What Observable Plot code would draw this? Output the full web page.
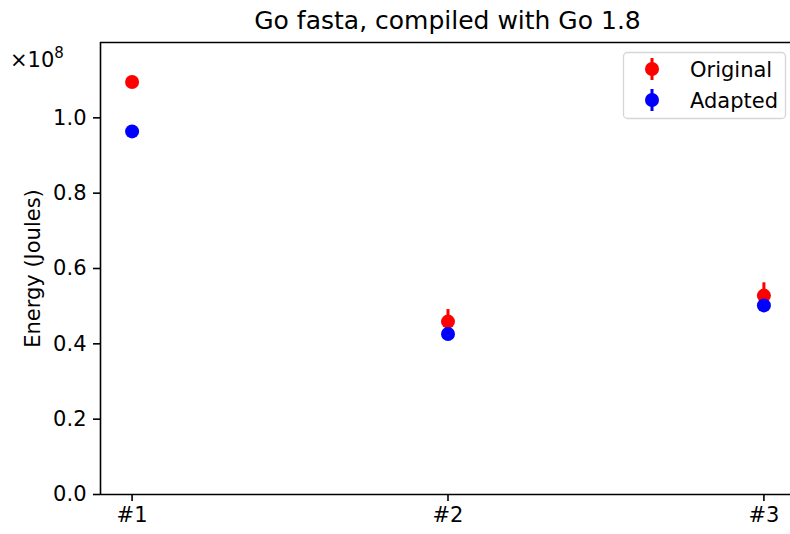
<!DOCTYPE html>
<html>
<head>
<meta charset="utf-8">
<script src="https://cdn.jsdelivr.net/npm/d3@7"></script>
<script src="https://cdn.jsdelivr.net/npm/@observablehq/plot@0.6"></script>
<style>
  html, body { margin: 0; padding: 0; background: #fff; overflow: hidden; }
  #title { width: 790px; height: 40px; box-sizing: border-box; padding-left: 105px; padding-top: 1px;
           text-align: center; font-family: "DejaVu Sans", sans-serif; font-size: 25px; line-height: 40px; color: #000; }
</style>
</head>
<body>
<div id="title">Go fasta, compiled with Go 1.8</div>
<div id="chart"></div>
<script>
// ---- data ----
const categories = ["#1", "#2", "#3"];
const original    = [1.095e8, 0.459e8, 0.528e8];
const originalErr = [0.010e8, 0.032e8, 0.034e8];
const adapted     = [0.964e8, 0.426e8, 0.502e8];
const adaptedErr  = [0.006e8, 0.006e8, 0.006e8];
const yTicks = [0, 0.2e8, 0.4e8, 0.6e8, 0.8e8, 1.0e8];
const seriesNames = ["Original", "Adapted"];
const seriesColors = ["#ff0000", "#0000ff"];

const origRows = categories.map((c, i) => ({i, v: original[i], e: originalErr[i]}));
const adRows = categories.map((c, i) => ({i, v: adapted[i], e: adaptedErr[i]}));

const font = "DejaVu Sans, sans-serif";
const R = 7;

const plot = Plot.plot({
  width: 790,
  height: 494,
  marginTop: 2,
  marginBottom: 40,
  marginLeft: 100,
  marginRight: 0,
  style: {fontFamily: font, fontSize: "21px", background: "#fff", color: "#000"},
  x: {type: "linear", domain: [-0.1, 2.1], range: [100, 795]},
  y: {type: "linear", domain: [0, 1.2e8]},
  marks: [
    Plot.axisX({ticks: [0, 1, 2], tickFormat: i => categories[i], tickSize: 7, tickPadding: 6, label: null, strokeWidth: 1.6}),
    Plot.axisY({ticks: yTicks, tickFormat: d => (d / 1e8).toFixed(1), tickSize: 7, tickPadding: 7, label: null, strokeWidth: 1.6}),
    Plot.ruleY([0], {stroke: "#000", strokeWidth: 1.6}),
    Plot.ruleY([1.2e8], {stroke: "#000", strokeWidth: 1.6}),
    Plot.ruleX([-0.1], {stroke: "#000", strokeWidth: 1.6}),
    Plot.text(["Energy (Joules)"], {frameAnchor: "left", text: d => d, rotate: -90, dx: -67, textAnchor: "middle", lineAnchor: "middle", fontSize: 21}),
    Plot.ruleX(origRows, {x: "i", y1: d => d.v - d.e, y2: d => d.v + d.e, stroke: seriesColors[0], strokeWidth: 3}),
    Plot.dot(origRows, {x: "i", y: "v", r: R, fill: seriesColors[0], stroke: "none"}),
    Plot.ruleX(adRows, {x: "i", y1: d => d.v - d.e, y2: d => d.v + d.e, stroke: seriesColors[1], strokeWidth: 3}),
    Plot.dot(adRows, {x: "i", y: "v", r: R, fill: seriesColors[1], stroke: "none"})
  ]
});
document.getElementById("chart").appendChild(plot);

const svg = d3.select(plot);
// offset text ×10^8
const off = svg.append("text").attr("x", 10).attr("y", 27).attr("text-anchor", "start")
  .attr("font-family", font).attr("font-size", 21).attr("fill", "#000");
off.append("tspan").text("×10");
off.append("tspan").attr("dy", -9).attr("font-size", 15).text("8");

// legend
const lg = svg.append("g").attr("text-anchor", "start");
lg.append("rect").attr("x", 623.5).attr("y", 12.5).attr("width", 162).attr("height", 66).attr("rx", 4)
  .attr("fill", "#fff").attr("fill-opacity", 0.8).attr("stroke", "#d6d6d6").attr("stroke-width", 1.3);
seriesNames.forEach((name, k) => {
  const cy = 29 + k * 31;
  lg.append("line").attr("x1", 652).attr("x2", 652).attr("y1", cy - 11).attr("y2", cy + 11)
    .attr("stroke", seriesColors[k]).attr("stroke-width", 3);
  lg.append("circle").attr("cx", 652).attr("cy", cy).attr("r", R).attr("fill", seriesColors[k]);
  lg.append("text").attr("x", 690).attr("y", cy + 7.5).attr("font-family", font).attr("font-size", 21)
    .attr("fill", "#000").attr("text-anchor", "start").text(name);
});
</script>
</body>
</html>
